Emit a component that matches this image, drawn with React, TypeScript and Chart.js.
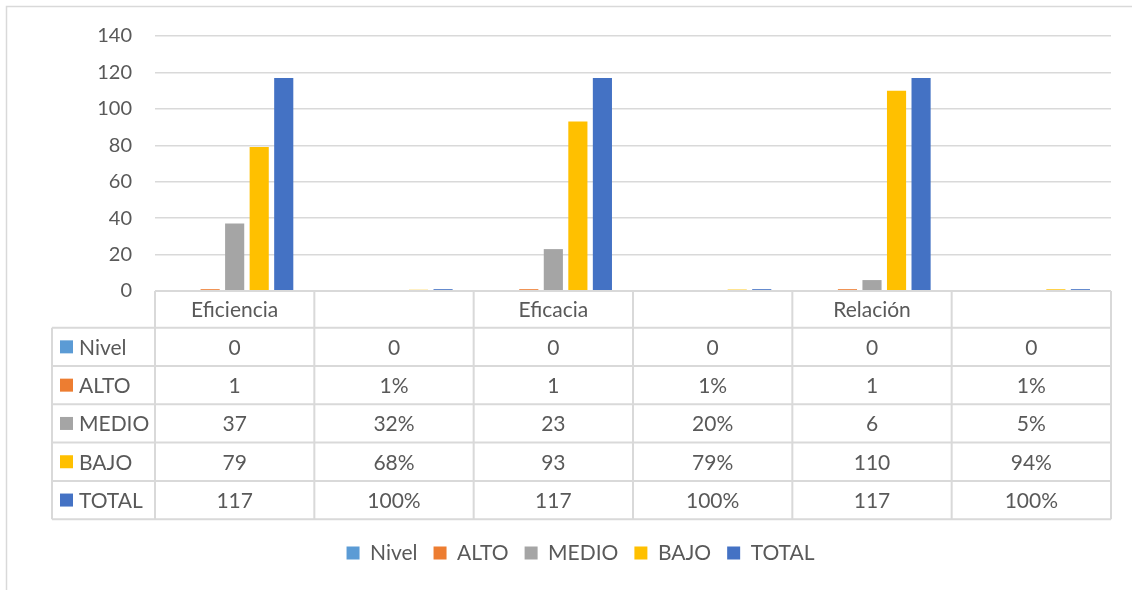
import React, { useEffect, useRef } from "react";
import { Chart, registerables } from "chart.js";

Chart.register(...registerables);

// ---- data ----
const categories = ["Eficiencia", "", "Eficacia", "", "Relación", ""];
const seriesNames = ["Nivel", "ALTO", "MEDIO", "BAJO", "TOTAL"];
const nivel = [0, 0, 0, 0, 0, 0];
const alto = [1, 0.01, 1, 0.01, 1, 0.01];
const medio = [37, 0.32, 23, 0.2, 6, 0.05];
const bajo = [79, 0.68, 93, 0.79, 110, 0.94];
const total = [117, 1, 117, 1, 117, 1];
const percentColumns = [false, true, false, true, false, true];
const yMin = 0;
const yMax = 140;
const yStep = 20;

const seriesValues = [nivel, alto, medio, bajo, total];
const seriesColors = ["#5B9BD5", "#ED7D31", "#A5A5A5", "#FFC000", "#4472C4"];

const FONT = 'Lato, "Open Sans", "DejaVu Sans", sans-serif';
const TEXT = "#595959";
const LINE = "#d9d9d9";

function formatCell(v: number, col: number): string {
  if (percentColumns[col] && v !== 0) return Math.round(v * 100) + "%";
  return String(v);
}

const borderPlugin = {
  id: "outerBorder",
  beforeDraw(chart: any) {
    const { ctx, width, height } = chart;
    ctx.save();
    ctx.strokeStyle = LINE;
    ctx.lineWidth = 1.5;
    ctx.beginPath();
    ctx.moveTo(6.5, height);
    ctx.lineTo(6.5, 6.5);
    ctx.lineTo(width, 6.5);
    ctx.stroke();
    ctx.restore();
  },
};

const tablePlugin = {
  id: "dataTable",
  afterDraw(chart: any) {
    const { ctx, chartArea } = chart;
    const x = chart.scales.x;
    const n = categories.length;
    const step = x.getPixelForValue(1) - x.getPixelForValue(0);
    const edge = (i: number) => x.getPixelForValue(0) - step / 2 + i * step;
    const labelLeft = 52;
    const headerH = 36.7;
    const rowH = 38.3;
    const top = chartArea.bottom;
    const headBottom = top + headerH;
    const bottom = headBottom + rowH * seriesNames.length;
    const right = edge(n);

    ctx.save();
    ctx.strokeStyle = LINE;
    ctx.lineWidth = 2;
    ctx.beginPath();
    ctx.moveTo(edge(0), top);
    ctx.lineTo(right, top);
    for (let r = 0; r <= seriesNames.length; r++) {
      const yy = headBottom + r * rowH;
      ctx.moveTo(labelLeft, yy);
      ctx.lineTo(right, yy);
    }
    ctx.moveTo(labelLeft, headBottom);
    ctx.lineTo(labelLeft, bottom);
    for (let i = 0; i <= n; i++) {
      ctx.moveTo(edge(i), top);
      ctx.lineTo(edge(i), bottom);
    }
    ctx.stroke();

    ctx.fillStyle = TEXT;
    ctx.font = `21px ${FONT}`;
    ctx.textBaseline = "middle";
    ctx.textAlign = "center";
    for (let i = 0; i < n; i++) {
      ctx.fillText(categories[i], x.getPixelForValue(i), top + headerH / 2 + 1);
    }
    for (let r = 0; r < seriesNames.length; r++) {
      const cy = headBottom + r * rowH + rowH / 2;
      ctx.fillStyle = seriesColors[r];
      ctx.fillRect(labelLeft + 8, cy - 6.5, 13, 13);
      ctx.fillStyle = TEXT;
      ctx.textAlign = "left";
      ctx.fillText(seriesNames[r], labelLeft + 27, cy + 1);
      ctx.textAlign = "center";
      for (let i = 0; i < n; i++) {
        ctx.fillText(formatCell(seriesValues[r][i], i), x.getPixelForValue(i), cy + 1);
      }
    }
    ctx.restore();
  },
};

export default function App() {
  const canvasRef = useRef<HTMLCanvasElement | null>(null);

  useEffect(() => {
    document.body.style.margin = "0";
    const canvas = canvasRef.current;
    if (!canvas) return;
    const chart = new Chart(canvas, {
      type: "bar",
      data: {
        labels: categories,
        datasets: seriesNames.map((name, i) => ({
          label: name,
          data: seriesValues[i],
          backgroundColor: seriesColors[i],
          borderWidth: 0,
          categoryPercentage: 0.77,
          barPercentage: 0.78,
        })),
      },
      options: {
        animation: false,
        responsive: true,
        maintainAspectRatio: false,
        events: [],
        layout: { padding: { left: 50, right: 21, top: 36, bottom: 16.5 } },
        plugins: {
          tooltip: { enabled: false },
          legend: {
            position: "bottom",
            labels: {
              boxWidth: 13,
              boxHeight: 13,
              padding: 16,
              color: TEXT,
              font: { family: FONT, size: 21 },
            },
          },
        },
        scales: {
          x: {
            ticks: { display: false },
            grid: { display: false, drawTicks: false },
            border: { display: false },
            afterFit: (s: any) => {
              s.height = 235.5;
            },
          },
          y: {
            min: yMin,
            max: yMax,
            ticks: {
              stepSize: yStep,
              padding: 23,
              color: TEXT,
              font: { family: FONT, size: 20 },
            },
            grid: { color: LINE, lineWidth: 1.5, drawTicks: false },
            border: { display: false },
            afterFit: (s: any) => {
              s.width = 105;
            },
          },
        },
      },
      plugins: [borderPlugin, tablePlugin],
    } as any);
    return () => chart.destroy();
  }, []);

  return (
    <div style={{ position: "relative", width: 1132, height: 590 }}>
      <canvas ref={canvasRef} />
    </div>
  );
}
